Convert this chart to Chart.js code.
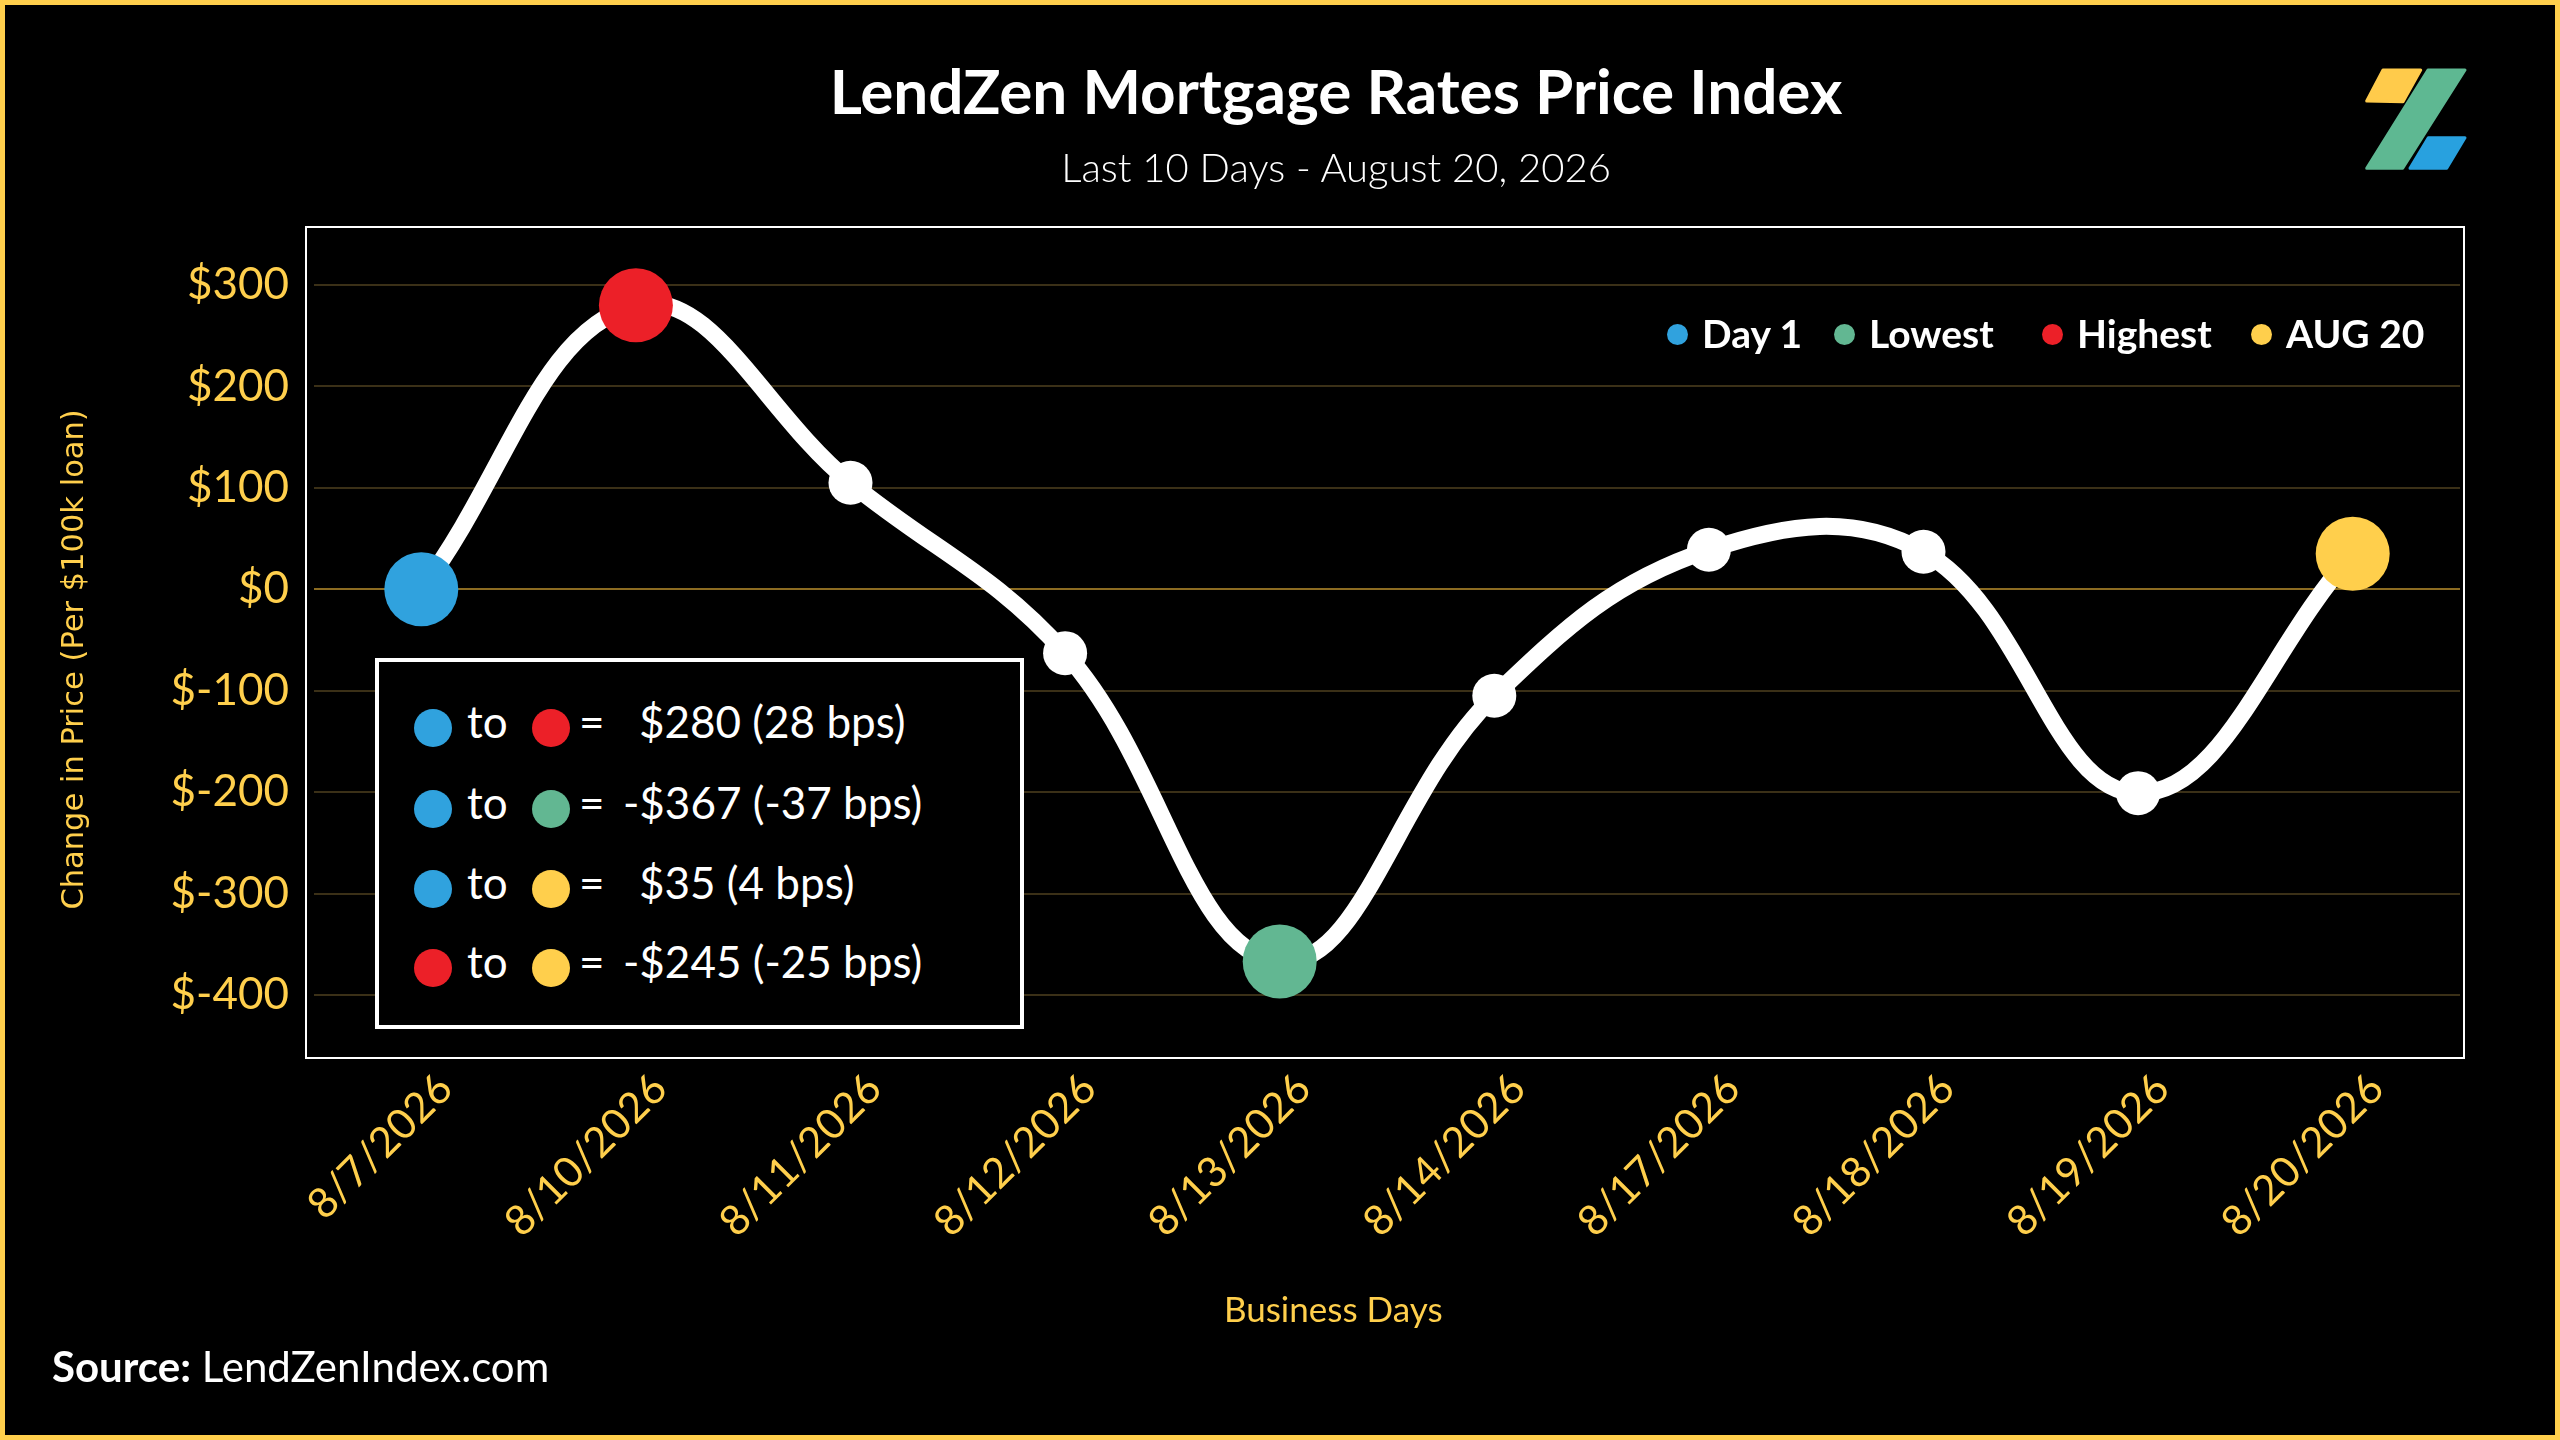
<!DOCTYPE html>
<html>
<head>
<meta charset="utf-8">
<script src="https://cdn.jsdelivr.net/npm/chart.js@4.4.1/dist/chart.umd.min.js"></script>
<style>
html,body{margin:0;padding:0;background:#000;}
#wrap{position:relative;width:2560px;height:1440px;background:#000;overflow:hidden;font-family:Lato,"Open Sans",sans-serif;}
#frame{position:absolute;left:0;top:0;width:2560px;height:1440px;box-sizing:border-box;border:5px solid #FFCF4C;pointer-events:none;z-index:6;}
#plotbox{position:absolute;left:305px;top:226px;width:2160px;height:833px;box-sizing:border-box;border:2px solid #fff;z-index:0;}
#chart{position:absolute;left:0;top:0;z-index:1;}
.t{position:absolute;white-space:nowrap;line-height:1.2;z-index:3;color:#fff;}
#title{left:1336px;top:53px;transform:translateX(-50%);font-size:62px;font-weight:700;}
#subtitle{left:1336px;top:143px;transform:translateX(-50%);font-size:40px;font-weight:300;}
#source{left:52px;top:1341px;font-size:42px;}
#source b{font-weight:700;}
.leg{position:absolute;z-index:3;height:0;}
.leg .dot{position:absolute;width:21px;height:21px;border-radius:50%;left:-10.5px;top:-10.5px;}
.leg .lt{position:absolute;left:25px;top:-24px;font-size:39px;font-weight:700;color:#fff;white-space:nowrap;line-height:1.2;}
#annot{position:absolute;left:375px;top:658px;width:649px;height:371px;box-sizing:border-box;border:4px solid #fff;background:#000;z-index:2;}
.row{position:absolute;left:0;top:0;width:100%;height:0;}
.row .c{position:absolute;width:38px;height:38px;border-radius:50%;top:-19px;}
.row .w{position:absolute;font-size:44px;color:#fff;white-space:nowrap;line-height:1.2;top:-33px;}
#logo{position:absolute;left:2360px;top:64px;width:110px;height:110px;z-index:3;}
</style>
</head>
<body>
<div id="wrap">
  <div id="plotbox"></div>
  <canvas id="chart" width="2560" height="1440" style="width:2560px;height:1440px;"></canvas>
  <div class="t" id="title">LendZen Mortgage Rates Price Index</div>
  <div class="t" id="subtitle">Last 10 Days - August 20, 2026</div>
  <div class="t" id="source"><b>Source:</b> LendZenIndex.com</div>
  <div id="legend"></div>
  <div id="annot"></div>
  <svg id="logo" viewBox="0 0 110 110">
    <polygon points="6.7,37 23,6 60.7,6 43,37.7" fill="#FFCB4B" stroke="#FFCB4B" stroke-width="3" stroke-linejoin="round"/>
    <polygon points="6.7,104.3 68,6 105,6 42.7,104.3" fill="#5EB892" stroke="#5EB892" stroke-width="3" stroke-linejoin="round"/>
    <polygon points="50,104.3 68.3,73.7 105,73.7 86.7,104.3" fill="#28A1DF" stroke="#28A1DF" stroke-width="3" stroke-linejoin="round"/>
  </svg>
  <div id="frame"></div>
</div>
<script>
// ---- data ----
const days = ['8/7/2026','8/10/2026','8/11/2026','8/12/2026','8/13/2026','8/14/2026','8/17/2026','8/18/2026','8/19/2026','8/20/2026'];
const priceChange = [0, 280, 105, -63, -367, -105, 39, 37, -201, 35];
const yTickValues = [-400, -300, -200, -100, 0, 100, 200, 300];
const legendNames = ['Day 1', 'Lowest', 'Highest', 'AUG 20'];
const legendColors = ['#30A2DE', '#62B792', '#EC2028', '#FFCF4C'];
const legendPointIndex = [0, 4, 1, 9];
const compareFrom = [0, 0, 0, 2];   // index into legend
const compareTo = [2, 1, 3, 3];
const compareValue = ['$280 (28 bps)', '-$367 (-37 bps)', '$35 (4 bps)', '-$245 (-25 bps)'];

// ---- styles ----
const gold = '#FFCF4C';
const gridDark = '#3b3017';
const gridZero = '#8c6c22';
const legendX = [1677, 1844, 2052, 2261];
const legendY = 334;
const rowY = [724, 805, 885, 964];

// legend
const legEl = document.getElementById('legend');
legendNames.forEach((n, i) => {
  const d = document.createElement('div');
  d.className = 'leg';
  d.style.left = legendX[i] + 'px';
  d.style.top = legendY + 'px';
  d.innerHTML = '<div class="dot" style="background:' + legendColors[i] + '"></div><div class="lt">' + n + '</div>';
  legEl.appendChild(d);
});

// annotation box
const annot = document.getElementById('annot');
compareValue.forEach((v, i) => {
  const r = document.createElement('div');
  r.className = 'row';
  r.style.top = (rowY[i] - 658) + 'px';
  const neg = v.charAt(0) === '-';
  r.innerHTML =
    '<div class="c" style="left:' + (433 - 375 - 19 - 4) + 'px;background:' + legendColors[compareFrom[i]] + '"></div>' +
    '<div class="w" style="left:' + (467 - 375 - 4) + 'px">to</div>' +
    '<div class="c" style="left:' + (551 - 375 - 19 - 4) + 'px;background:' + legendColors[compareTo[i]] + '"></div>' +
    '<div class="w" style="left:' + (579 - 375 - 4) + 'px">=</div>' +
    '<div class="w" style="left:' + ((neg ? 623 : 639) - 375 - 4) + 'px">' + v + '</div>';
  annot.appendChild(r);
});

// point styling
const pointColors = priceChange.map(() => '#ffffff');
const pointRadii = priceChange.map(() => 22);
legendPointIndex.forEach((p, i) => { pointColors[p] = legendColors[i]; pointRadii[p] = 37; });

function build() {
  const ctx = document.getElementById('chart').getContext('2d');
  new Chart(ctx, {
    type: 'line',
    data: {
      labels: days,
      datasets: [{
        data: priceChange,
        borderColor: '#ffffff',
        borderWidth: 17,
        borderCapStyle: 'round',
        borderJoinStyle: 'round',
        tension: 0.4,
        fill: false,
        clip: false,
        pointRadius: pointRadii,
        pointHoverRadius: pointRadii,
        pointBackgroundColor: pointColors,
        pointBorderColor: pointColors,
        pointBorderWidth: 0
      }]
    },
    options: {
      responsive: false,
      animation: false,
      devicePixelRatio: 1,
      events: [],
      layout: { padding: { left: 0, right: 100, top: 285, bottom: 100 } },
      plugins: { legend: { display: false }, tooltip: { enabled: false }, title: { display: false } },
      scales: {
        x: {
          offset: true,
          grid: { display: false },
          border: { display: false },
          ticks: {
            color: gold,
            font: { family: 'Lato', size: 42 },
            minRotation: 45,
            maxRotation: 45,
            autoSkip: false,
            padding: 61,
            labelOffset: 24
          },
          title: {
            display: true,
            text: 'Business Days' + '\u00A0'.repeat(12),
            color: gold,
            font: { family: 'Lato', size: 35 },
            padding: { top: 0, bottom: 8 }
          },
          afterFit(s) { s.height = 345; }
        },
        y: {
          min: -400,
          max: 300,
          afterBuildTicks(s) { s.ticks = yTickValues.map(v => ({ value: v })); },
          ticks: {
            color: gold,
            font: { family: 'Lato', size: 44 },
            padding: 25,
            callback: v => '$' + v
          },
          grid: {
            color: c => (c.tick && c.tick.value === 0) ? gridZero : gridDark,
            lineWidth: 2,
            drawTicks: false
          },
          border: { display: false },
          title: {
            display: true,
            text: 'Change in Price (Per $100k loan)' + '\u00A0'.repeat(4),
            color: gold,
            font: { family: 'DejaVu Sans', size: 30.5 },
            padding: { top: 57, bottom: 0 }
          },
          afterFit(s) { s.width = 314; }
        }
      }
    }
  });
}
if (document.fonts && document.fonts.ready) {
  document.fonts.ready.then(build);
} else { build(); }
</script>
</body>
</html>
